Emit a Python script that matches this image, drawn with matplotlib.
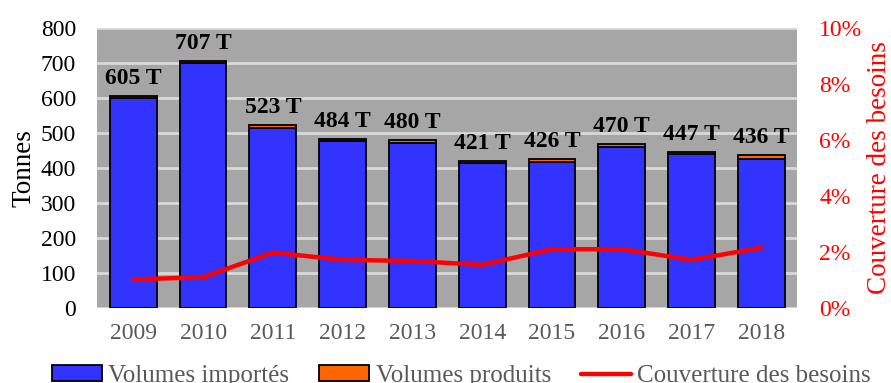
import numpy as np
import matplotlib
matplotlib.use("Agg")
import matplotlib.pyplot as plt

years = ["2009", "2010", "2011", "2012", "2013", "2014", "2015", "2016", "2017", "2018"]
totals = [605, 707, 523, 484, 480, 421, 426, 470, 447, 436]
produced = [6, 8, 10, 8, 8, 6, 9, 10, 8, 9]
imported = [599, 699, 513, 476, 472, 415, 417, 460, 439, 427]
coverage = [1.02, 1.10, 1.98, 1.72, 1.68, 1.54, 2.10, 2.10, 1.72, 2.15]  # %

plt.rcParams['font.family'] = ['Liberation Serif', 'DejaVu Serif']

fig = plt.figure(figsize=(8.91, 3.83), dpi=100)
ax = fig.add_axes([97/891, 1 - 308/383, 700/891, 280/383])
x = np.arange(len(years))

ax.set_facecolor('#A6A6A6')
ax.bar(x, imported, width=0.67, color='#3333FF', edgecolor='black', linewidth=1.3,
       label='Volumes importés', zorder=3)
ax.bar(x, produced, width=0.67, bottom=imported, color='#FF6600', edgecolor='black',
       linewidth=1.3, label='Volumes produits', zorder=3)

# labels des totaux au-dessus des barres
for xi, t in zip(x, totals):
    ax.annotate(f"{t} T", (xi, t), xytext=(0, 5), textcoords='offset points',
                ha='center', va='bottom', fontsize=17, fontweight='bold', zorder=5)

ax.set_xlim(-0.52, 9.51)
ax.set_ylim(0, 800)
ax.set_yticks(range(0, 801, 100))
ax.set_xticks(x)
ax.set_xticklabels(years, color='#595959')
ax.tick_params(axis='both', length=0, labelsize=17)
ax.tick_params(axis='x', pad=11)
ax.tick_params(axis='y', pad=15)
ax.grid(axis='y', color='#D9D9D9', linewidth=2, zorder=1)
for s in ax.spines.values():
    s.set_visible(False)
ax.set_ylabel('Tonnes', fontsize=19.5, labelpad=3)

ax2 = ax.twinx()
ax2.plot(x, np.array(coverage) / 100, color='red', linewidth=3.2,
         label='Couverture des besoins', zorder=4, solid_capstyle='round')
ax2.set_ylim(0, 0.10)
ax2.set_yticks(np.arange(0, 0.101, 0.02))
ax2.set_yticklabels([f"{int(round(v * 100))}%" for v in np.arange(0, 0.101, 0.02)])
ax2.tick_params(axis='y', length=0, labelsize=17, colors='red', pad=16)
for s in ax2.spines.values():
    s.set_visible(False)
ax2.set_ylabel('Couverture des besoins', fontsize=19.5, color='red', labelpad=3)

h1, l1 = ax.get_legend_handles_labels()
h2, l2 = ax2.get_legend_handles_labels()
fig.legend(h1 + h2, l1 + l2, loc='center left', bbox_to_anchor=(52/891, 1 - 376/383),
           ncol=3, frameon=False, fontsize=18, handlelength=2.0, handleheight=0.6,
           handletextpad=0.25, columnspacing=1.2, borderaxespad=0, borderpad=0,
           labelcolor='#595959')

fig.savefig('out.png', dpi=100)
